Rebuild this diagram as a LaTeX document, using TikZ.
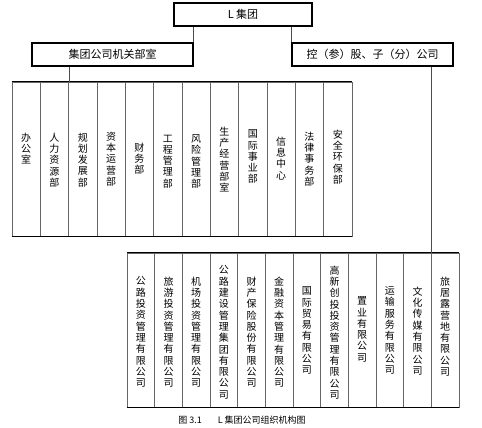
\documentclass[tikz,border=0pt]{standalone}
\usepackage{fontspec}
\newfontfamily\cjk{Noto Sans CJK SC}
\XeTeXlinebreaklocale "zh"
\XeTeXlinebreakskip=0pt plus 1pt
\usetikzlibrary{positioning,calc}

\tikzset{
  unit/.style={draw,line width=1.2pt,minimum width=161pt,minimum height=23pt,inner sep=0pt,font=\cjk\fontsize{11}{13}\selectfont},
  col/.style={draw=black!60,line width=0.9pt,inner sep=0pt,minimum height=154pt,minimum width=#1},
  vtext/.style={anchor=north,align=center,text width=12pt,inner sep=0pt,font=\cjk\fontsize{10}{11.3}\selectfont},
  link/.style={draw=black!70,line width=0.8pt},
  rule/.style={line width=1.6pt}
}

\begin{document}
\begin{tikzpicture}[x=1pt,y=-1pt]
  \useasboundingbox (0,0) rectangle (482,428);
  \node[unit,minimum width=138pt] (group) at (243,14.5) {L 集团};
  \node[unit] (office) at (112.5,54.5) {集团公司机关部室};
  \node[unit] (holding) at (372.5,54.5) {控（参）股、子（分）公司};
  \draw[link] (office.north east) -- (office.north east |- group.south);
  \draw[link] (holding.north west) -- (holding.north west |- group.south);

  % departments
  \foreach \t/\o [count=\i] in {办公室/51,人力资源部/51,规划发展部/51,资本运营部/50,财务部/61,工程管理部/53,
      风险管理部/53,生产经营部室/45,国际事业部/48,信息中心/55,法律事务部/50,安全环保部/48}{
    \node[col=28.33pt] (d\i) at ({12+28.33*(\i-0.5)},159) {};
    \node[vtext] at ($(d\i.north)+(0,\o)$) {\t};
  }
  \draw[rule] (d1.north west) -- (d12.north east);
  \draw[rule] (d1.south west) -- (d12.south east);
  \draw[link] (office.south -| d2.east) -- (d2.north east);

  % companies
  \foreach \t/\o [count=\i] in {公路投资管理有限公司/24,旅游投资管理有限公司/24,机场投资管理有限公司/24,
      公路建设管理集团有限公司/13,财产保险股份有限公司/24,金融资本管理有限公司/24,国际贸易有限公司/34,
      高新创投投资管理有限公司/13,置业有限公司/44,运输服务有限公司/34,文化传媒有限公司/34,旅居露营地有限公司/24}{
    \node[col=27.67pt] (c\i) at ({127+27.67*(\i-0.5)},330) {};
    \node[vtext] at ($(c\i.north)+(0,\o)$) {\t};
  }
  \draw[rule] (c1.north west) -- (c12.north east);
  \draw[rule] (c1.south west) -- (c12.south east);
  \draw[link] (holding.south -| c11.east) -- (c11.north east);

  \node[font=\cjk\fontsize{9}{11}\selectfont] (caption) at (242,420) {图 3.1\hspace{16pt}L 集团公司组织机构图};
\end{tikzpicture}
\end{document}
